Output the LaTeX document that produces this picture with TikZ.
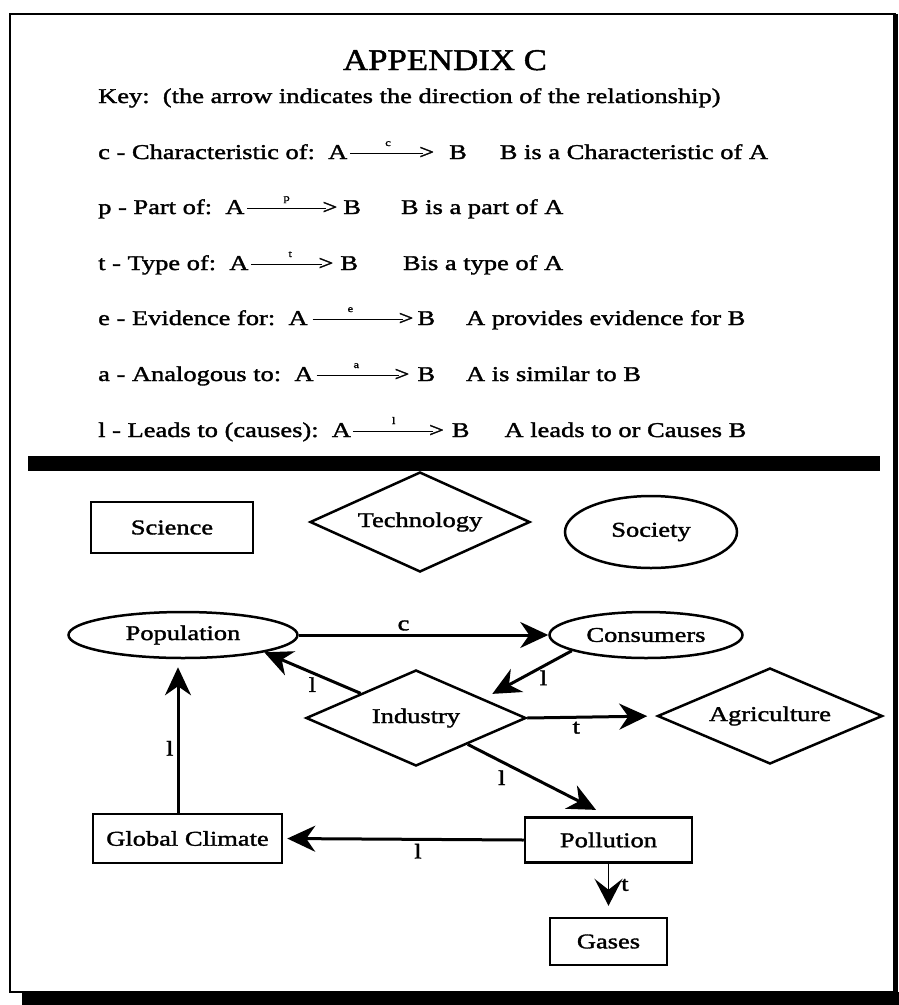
\documentclass[tikz,border=0pt]{standalone}
\usepackage{fontspec}
\setmainfont[FakeStretch=1.26,FakeBold=1.6]{Liberation Serif}
\newfontfamily\titlefont[FakeStretch=1.16,FakeBold=1.6]{Liberation Serif}
\usetikzlibrary{shapes.geometric,arrows.meta}
% key arrow: letter, line length, label offset, gap after
\newcommand\karr[4]{%
  \makebox[0pt][l]{\hspace*{#3}\raisebox{13pt}{\fontsize{10}{10}\selectfont #1}}%
  \rule[5pt]{#2}{1.1pt}\kern-4pt>\hspace*{#4}}
\begin{document}
\begin{tikzpicture}[x=1pt,y=-1pt,
  txt/.style={font=\fontsize{21}{24}\selectfont, inner sep=0pt},
  keyrow/.style={txt, anchor=base west},
  rbox/.style={txt, draw, line width=2.5pt, rectangle},
  dia/.style={txt, draw, line width=2.5pt, diamond, aspect=2.3},
  ell/.style={txt, draw, line width=2.5pt, ellipse},
  conn/.style={line width=3pt, -{Stealth[length=28pt,width=26pt,inset=9pt]}},
  thinconn/.style={line width=1.6pt, -{Stealth[length=27pt,width=28pt,inset=11pt]}},
  lbl/.style={font=\fontsize{21}{24}\selectfont, inner sep=3pt}]
\useasboundingbox (0,0) rectangle (899,1005);
% frame
\draw[line width=2.4pt] (10,14) rectangle (895,992);
\fill (22,992) rectangle (899,1005);
\fill (893,14) rectangle (898,1005);
% title and key
\node[font=\titlefont\fontsize{30}{30}\selectfont, anchor=base, inner sep=0pt] (title) at (445,70) {APPENDIX C};
\node[keyrow] (kkey) at (98,103) {Key:\ \ (the arrow indicates the direction of the relationship)};
\node[keyrow] (kc) at (98,159) {c - Characteristic of:\ \ A\hspace*{3pt}\karr{c}{73pt}{35pt}{15pt}B\hspace*{33pt}B is a Characteristic of A};
\node[keyrow] (kp) at (98,214) {p - Part of:\ \ A\hspace*{3pt}\karr{p}{79pt}{36pt}{6pt}B\hspace*{40pt}B is a part of A};
\node[keyrow] (kt) at (98,270) {t - Type of:\ \ A\hspace*{3pt}\karr{t}{71pt}{37pt}{7pt}B\hspace*{45pt}Bis a type of A};
\node[keyrow] (ke) at (98,325) {e - Evidence for:\ \ A\hspace*{5pt}\karr{e}{90pt}{35pt}{4pt}B\hspace*{31pt}A provides evidence for B};
\node[keyrow] (ka) at (98,381) {a - Analogous to:\ \ A\hspace*{3pt}\karr{a}{82pt}{37pt}{8pt}B\hspace*{31pt}A is similar to B};
\node[keyrow] (kl) at (98,437) {l - Leads to (causes):\ \ A\hspace*{2pt}\karr{l}{80pt}{39pt}{8pt}B\hspace*{35pt}A leads to or Causes B};
% separator
\fill (28,456) rectangle (880,471);
% diagram nodes
\node[rbox, minimum width=162pt, minimum height=51pt] (sci) at (172,527.5) {Science};
\node[dia, minimum width=220pt, minimum height=100pt] (tech) at (420,522) {Technology};
\node[ell, minimum width=172pt, minimum height=72pt] (soc) at (651,532) {Society};
\node[ell, minimum width=229pt, minimum height=46pt] (pop) at (183,635) {Population};
\node[ell, minimum width=193pt, minimum height=46pt] (cons) at (646,635) {Consumers};
\node[dia, minimum width=220pt, minimum height=96pt] (ind) at (416,718) {Industry};
\node[dia, minimum width=225pt, minimum height=96pt] (agr) at (770,716) {Agriculture};
\node[rbox, minimum width=189pt, minimum height=49pt] (gc) at (187.5,838.5) {Global Climate};
\node[rbox, minimum width=167pt, minimum height=45pt] (pol) at (608.5,840) {Pollution};
\node[rbox, minimum width=117pt, minimum height=47pt] (gas) at (608.5,941.5) {Gases};
% connectors
\draw[conn] (pop.east) -- node[lbl, above, pos=0.42] {c} (cons.west);
\draw[conn] (ind.156) -- node[lbl, below, pos=0.5] {l} (pop.-12);
\draw[conn, shorten >=10pt] (cons.192) -- node[lbl, below, pos=0.32] {l} (ind.16);
\draw[conn, shorten >=9pt] (ind.east) -- node[lbl, below, pos=0.38] {t} (agr.west);
\draw[conn, shorten >=14pt] (ind.-27) -- node[lbl, below left, pos=0.3] {l} (pol.north);
\draw[conn, shorten >=8pt] ([xshift=-9.5pt]gc.north) -- node[lbl, left, pos=0.42] {l} ([xshift=-5pt]pop.south);
\draw[conn, shorten >=4pt] (pol.west) -- node[lbl, below, pos=0.44] {l} (gc.east);
\draw[thinconn, shorten >=11pt] (pol.south) -- node[lbl, right, pos=0.4, xshift=9pt] {t} (gas.north);
\end{tikzpicture}
\end{document}
